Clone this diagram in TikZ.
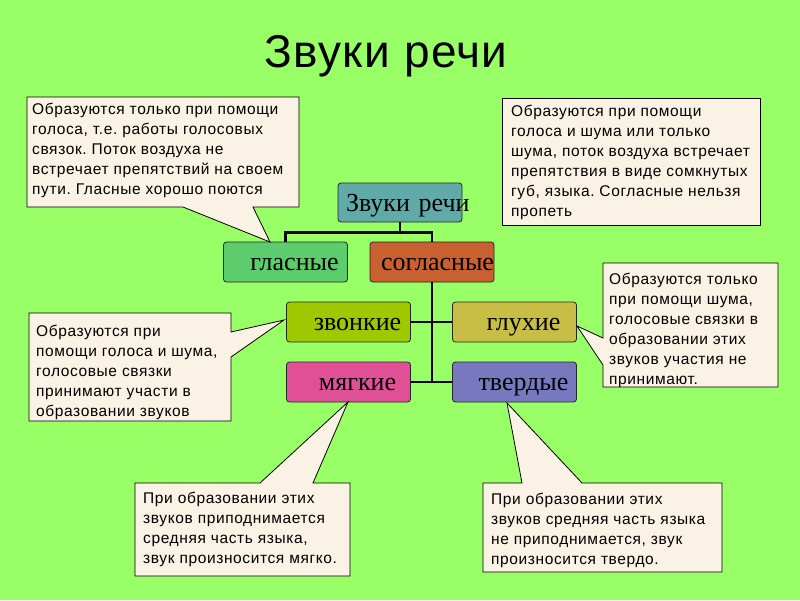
\documentclass[tikz,border=0pt]{standalone}
\usepackage{fontspec}
\setmainfont{Liberation Serif}
\setsansfont{Liberation Sans}
\newfontfamily\notefont[LetterSpace=4]{Liberation Sans}
\newfontfamily\titlefont[LetterSpace=3]{Liberation Sans}
\hyphenpenalty=10000
\exhyphenpenalty=10000
\frenchspacing

\definecolor{bg}{RGB}{153,255,102}
\definecolor{notebg}{RGB}{250,242,228}
\definecolor{rootc}{RGB}{96,170,170}
\definecolor{glasc}{RGB}{92,204,108}
\definecolor{soglc}{RGB}{200,96,48}
\definecolor{zvonc}{RGB}{160,200,0}
\definecolor{gluhc}{RGB}{200,190,70}
\definecolor{myagc}{RGB}{224,80,150}
\definecolor{tverdc}{RGB}{120,120,190}

\begin{document}
\begin{tikzpicture}[x=1pt,y=-1pt,
	box/.style={draw=black!85,line width=0.8pt,rounded corners=3pt,
		text width=124pt,inner xsep=0pt,minimum height=40pt,align=center,
		text height=22.5pt,text depth=5pt,
		font=\fontsize{26}{28}\selectfont,
		execute at begin node={\hspace*{18pt minus 10pt}}},
	note/.style={fill=notebg,draw=black,line width=0.8pt},
	notetext/.style={anchor=north west,align=left,inner sep=0pt,
		font=\notefont\fontsize{15.5}{20}\selectfont},
	link/.style={line width=2.5pt}]
\useasboundingbox (0,0) rectangle (800,600);
\fill[bg] (0,0) rectangle (800,600);

% title
\node[anchor=base,font=\titlefont\fontsize{46}{50}\selectfont] (title) at (386,67) {Звуки речи};

% boxes
\node[box,fill=rootc,minimum height=39pt] (root) at (400,202.5) {Звуки~речи};
\node[box,fill=glasc] (glas) at (285.5,262) {гласные};
\node[box,fill=soglc] (sogl) at (432,262) {согласные};
\node[box,fill=zvonc] (zvon) at (348.5,322) {звонкие};
\node[box,fill=gluhc] (gluh) at (514.5,322) {глухие};
\node[box,fill=myagc] (myag) at (348.5,382) {мягкие};
\node[box,fill=tverdc] (tverd) at (514.5,382) {твердые};

% tree lines
\draw[link] (root.south) -- ++(0,10) -| (glas.north);
\draw[link] (root.south) ++(0,10) -| (sogl.north);
\draw[link] (sogl.south) -- (sogl.south |- tverd.west);
\draw[link] (zvon.east) -- (gluh.west);
\draw[link] (myag.east) -- (tverd.west);

% pointer tips
\coordinate (tipglas) at (270,242);
\coordinate (tipzvon) at (284,320);
\coordinate (tipgluh) at (577,326);
\coordinate (tipmyag) at (348,402);
\coordinate (tiptverd) at (507,403);

% callouts
\draw[note] (27,97) -- (299,97) -- (299,207) -- (253,207) -- (tipglas) -- (183,207) -- (27,207) -- cycle;
\draw[note] (502,98) rectangle (760,225);
\draw[note] (29,313) -- (231,313) -- (231,332) -- (tipzvon) -- (231,357) -- (231,421) -- (29,421) -- cycle;
\draw[note] (603,263) -- (778,263) -- (778,387) -- (603,387) -- (603,365) -- (tipgluh) -- (603,338) -- cycle;
\draw[note] (135,483) -- (260,483) -- (tipmyag) -- (313,483) -- (350,483) -- (350,576) -- (135,576) -- cycle;
\draw[note] (483,483) -- (522,483) -- (tiptverd) -- (582,483) -- (722,483) -- (722,572) -- (483,572) -- cycle;

% callout texts
\node[notetext] (vowtxt) at (32,103) {Образуются только при помощи\\голоса, т.е. работы голосовых\\связок. Поток воздуха не\\встречает препятствий на своем\\пути. Гласные хорошо поются};
\node[notetext] (constxt) at (511,105) {Образуются при помощи\\голоса и шума или только\\шума, поток воздуха встречает\\препятствия в виде сомкнутых\\губ, языка. Согласные нельзя\\пропеть};
\node[notetext] (zvontxt) at (36,325) {Образуются при\\помощи голоса и шума,\\голосовые связки\\принимают участи в\\образовании звуков};
\node[notetext] (gluhtxt) at (609,273) {Образуются только\\при помощи шума,\\голосовые связки в\\образовании этих\\звуков участия не\\принимают.};
\node[notetext] (myagtxt) at (143,492) {При образовании этих\\звуков приподнимается\\средняя часть языка,\\звук произносится мягко.};
\node[notetext] (tverdtxt) at (491,493) {При образовании этих\\звуков средняя часть языка\\не приподнимается, звук\\произносится твердо.};

\end{tikzpicture}
\end{document}
